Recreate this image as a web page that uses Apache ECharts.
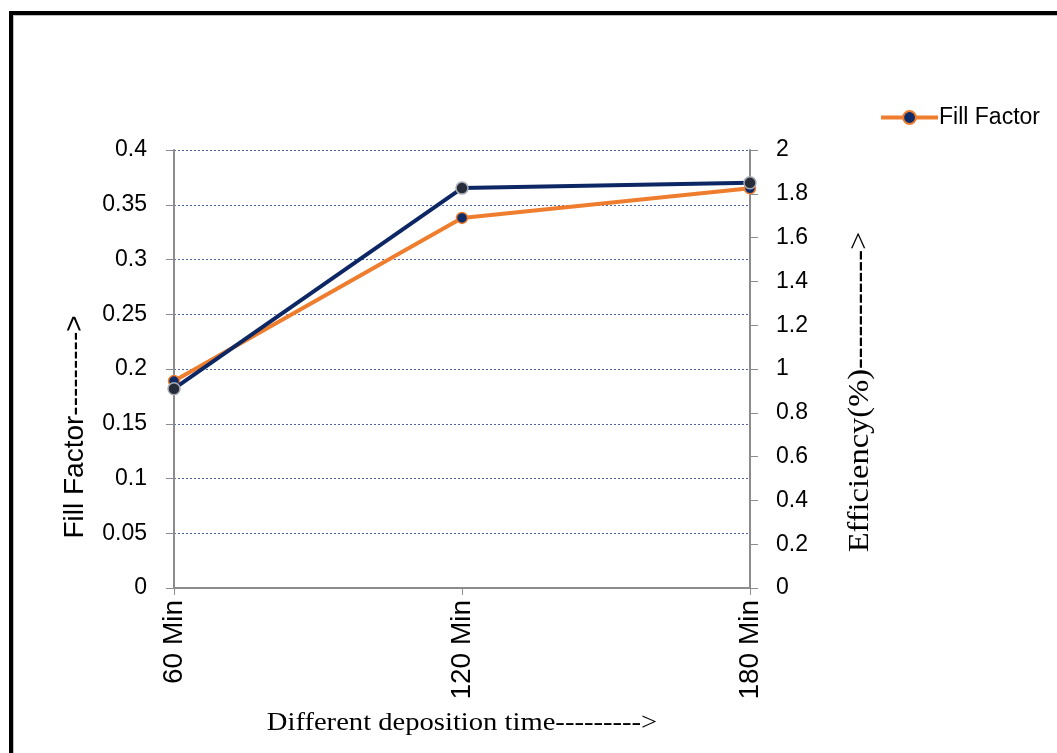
<!DOCTYPE html>
<html>
<head>
<meta charset="utf-8">
<script src="https://cdn.jsdelivr.net/npm/echarts@6/dist/echarts.min.js"></script>
<style>
  html, body { margin: 0; padding: 0; background: #fff; }
  #chart { width: 1057px; height: 753px; }
</style>
</head>
<body>
<div id="chart"></div>
<script>
// Deposition times on the category axis
const categories = ['60 Min', '120 Min', '180 Min'];
// Fill factor (left axis)
const fillFactor = [0.189, 0.338, 0.365];
// Efficiency in % (right axis)
const efficiency = [0.91, 1.826, 1.85];

const chart = echarts.init(document.getElementById('chart'));

const tickFont = { fontFamily: 'Liberation Sans', fontSize: 23, color: '#000' };

chart.setOption({
  animation: false,
  backgroundColor: '#fff',
  grid: { left: 174, right: 307, top: 150, bottom: 165 },
  legend: {
    data: ['Fill Factor'],
    right: 12,
    top: 101,
    itemWidth: 57,
    itemHeight: 16,
    itemGap: 4,
    lineStyle: { width: 4, color: '#ef7d2e' },
    textStyle: { fontFamily: 'Liberation Sans', fontSize: 23, color: '#000', padding: [0, 0, 0, -4] }
  },
  xAxis: {
    type: 'category',
    data: categories,
    boundaryGap: false,
    axisLine: { lineStyle: { color: '#8c8c8c', width: 2 } },
    axisTick: { alignWithLabel: true, length: 7, lineStyle: { color: '#8c8c8c', width: 1 } },
    axisLabel: Object.assign({}, tickFont, { rotate: 90, margin: 12, fontSize: 28 }),
    splitLine: { show: false }
  },
  yAxis: [
    {
      type: 'value',
      min: 0, max: 0.4, interval: 0.05,
      axisLine: { show: true, lineStyle: { color: '#8c8c8c', width: 2 } },
      axisTick: { show: true, length: 8, lineStyle: { color: '#8c8c8c', width: 1 } },
      axisLabel: Object.assign({ margin: 27 }, tickFont),
      splitLine: { show: true, lineStyle: { color: '#4a62a8', width: 1, type: [2, 2] } }
    },
    {
      type: 'value',
      position: 'right',
      min: 0, max: 2, interval: 0.2,
      alignTicks: false,
      axisLine: { show: true, lineStyle: { color: '#8c8c8c', width: 2 } },
      axisTick: { show: true, length: 8, lineStyle: { color: '#8c8c8c', width: 1 } },
      axisLabel: Object.assign({ margin: 26 }, tickFont),
      splitLine: { show: false }
    }
  ],
  series: [
    {
      name: 'Fill Factor',
      type: 'line',
      yAxisIndex: 0,
      data: fillFactor,
      symbol: 'circle',
      symbolSize: 11,
      lineStyle: { color: '#ef7d2e', width: 4 },
      itemStyle: { color: '#0f2c68', borderColor: '#ef7d2e', borderWidth: 1.5 },
      z: 2
    },
    {
      name: 'Efficiency',
      type: 'line',
      yAxisIndex: 1,
      data: efficiency,
      symbol: 'circle',
      symbolSize: 12,
      lineStyle: { color: '#0c2763', width: 4 },
      itemStyle: { color: '#262c3a', borderColor: '#a9acb3', borderWidth: 1.5 },
      z: 3
    }
  ],
  graphic: [
    // frame along the top and left edges
    { type: 'rect', shape: { x: 9, y: 11, width: 1048, height: 4 }, style: { fill: '#000' }, silent: true },
    { type: 'rect', shape: { x: 9, y: 11, width: 4, height: 742 }, style: { fill: '#000' }, silent: true },
    { type: 'rect', shape: { x: 13, y: 15, width: 1044, height: 1 }, style: { fill: '#bdbdbd' }, silent: true },
    { type: 'rect', shape: { x: 13, y: 15, width: 1, height: 738 }, style: { fill: '#bdbdbd' }, silent: true },
    // axis titles
    {
      type: 'text', x: 75, y: 427, rotation: Math.PI / 2,
      style: { text: 'Fill Factor--------->', fontFamily: 'Liberation Sans', fontSize: 28, fill: '#000', align: 'center', verticalAlign: 'middle' }
    },
    {
      type: 'text', x: 860, y: 392, rotation: Math.PI / 2, scaleX: 1.12,
      style: { text: 'Efficiency(%)----------->', fontFamily: 'Liberation Serif', fontSize: 29, fill: '#000', align: 'center', verticalAlign: 'middle' }
    },
    {
      type: 'text', x: 462, y: 723, scaleX: 1.1,
      style: { text: 'Different deposition time--------->', fontFamily: 'Liberation Serif', fontSize: 26, fill: '#000', align: 'center', verticalAlign: 'middle' }
    }
  ]
});
</script>
</body>
</html>
